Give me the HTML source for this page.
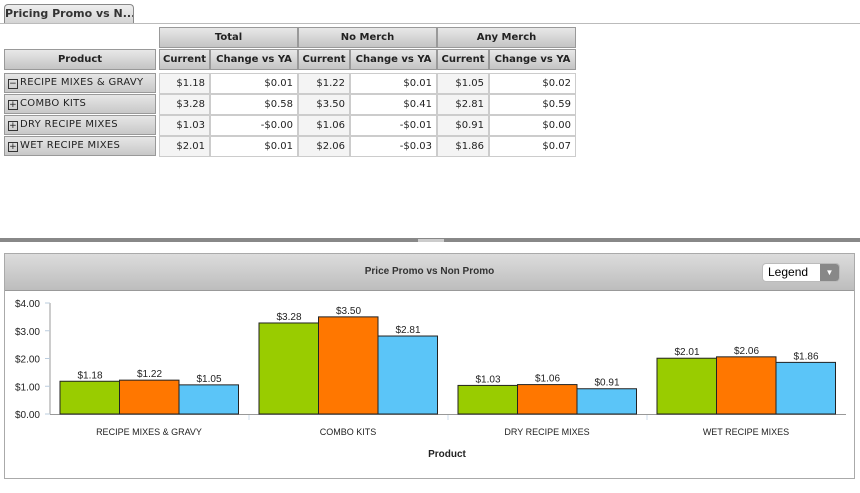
<!DOCTYPE html><html><head><style>
body{margin:0;width:860px;height:493px;background:#fff;position:relative;font-family:"Liberation Sans",sans-serif;overflow:hidden}
.tab{position:absolute;left:4px;top:4px;width:128px;height:18px;border:1px solid #888;border-bottom:none;border-radius:4px 4px 0 0;background:linear-gradient(#eee,#d4d4d4);font:bold 11px "DejaVu Sans",sans-serif;color:#333;line-height:18px;text-align:center;white-space:nowrap;overflow:hidden}
.tl{position:absolute;left:0;top:23px;width:860px;height:1px;background:#bbb}
.c{position:absolute;box-sizing:border-box;font:10px "DejaVu Sans",sans-serif;color:#222;white-space:nowrap;overflow:hidden}
.h{background:linear-gradient(#e8e8e8,#c4c4c4);border:1px solid #999;font-weight:bold;text-align:center;line-height:19px}
.r{background:linear-gradient(#e6e6e6,#c8c8c8);border:1px solid #999;padding-left:3px;line-height:18px;letter-spacing:0.3px}
.d{border:1px solid #ccc;text-align:right;padding-right:4px;line-height:19px;background:#fff}
.d.a{background:#f4f4f4}
.bx{display:inline-block;width:8px;height:8px;border:1px solid #333;font-size:9px;line-height:8px;text-align:center;margin-right:2px;vertical-align:-1px}
</style></head><body>
<div class="tab">Pricing Promo vs N...</div><div class="tl"></div>
<div class="c h" style="left:159px;top:27px;width:139px;height:21px">Total</div>
<div class="c h" style="left:298px;top:27px;width:139px;height:21px">No Merch</div>
<div class="c h" style="left:437px;top:27px;width:139px;height:21px">Any Merch</div>
<div class="c h" style="left:4px;top:49px;width:152px;height:21px">Product</div>
<div class="c h" style="left:159px;top:49px;width:51px;height:21px">Current</div>
<div class="c h" style="left:210px;top:49px;width:88px;height:21px">Change vs YA</div>
<div class="c h" style="left:298px;top:49px;width:52px;height:21px">Current</div>
<div class="c h" style="left:350px;top:49px;width:87px;height:21px">Change vs YA</div>
<div class="c h" style="left:437px;top:49px;width:52px;height:21px">Current</div>
<div class="c h" style="left:489px;top:49px;width:87px;height:21px">Change vs YA</div>
<div id="rows"></div>
<div style="position:absolute;left:0;top:238px;width:860px;height:4px;background:#888"></div>
<div style="position:absolute;left:4px;top:253px;width:851px;height:226px;border:1px solid #aaa;box-sizing:border-box"></div>
<div style="position:absolute;left:5px;top:254px;width:849px;height:36px;background:linear-gradient(#dcdcdc,#bdbdbd);border-bottom:1px solid #999;font:bold 10px 'Liberation Sans',sans-serif;color:#333;text-align:center;line-height:36px">Price Promo vs Non Promo</div>
<div style="position:absolute;left:762px;top:263px;width:78px;height:19px;border-radius:4px;background:#fff;border:1px solid #bbb;box-sizing:border-box;font:12px 'Liberation Sans',sans-serif;line-height:17px;padding-left:5px">Legend<div style="position:absolute;right:0;top:0;width:19px;height:17px;background:#888;border-radius:0 3px 3px 0;color:#fff;font-size:8px;text-align:center;line-height:17px">▼</div></div>
<svg style="position:absolute;left:0;top:0" width="860" height="493" id="s"></svg>
<script>
var rows=[["RECIPE MIXES & GRAVY","−","$1.18","$0.01","$1.22","$0.01","$1.05","$0.02"],["COMBO KITS","+","$3.28","$0.58","$3.50","$0.41","$2.81","$0.59"],["DRY RECIPE MIXES","+","$1.03","-$0.00","$1.06","-$0.01","$0.91","$0.00"],["WET RECIPE MIXES","+","$2.01","$0.01","$2.06","-$0.03","$1.86","$0.07"]];
var xs=[159,210,298,350,437,489,576],h="";
rows.forEach(function(r,i){var y=73+i*21;
h+='<div class="c r" style="left:4px;top:'+y+'px;width:152px;height:20px"><span class="bx">'+r[1]+'</span>'+r[0].replace("&","&amp;")+'</div>';
for(var j=0;j<6;j++)h+='<div class="c d'+(j%2==0?' a':'')+'" style="left:'+xs[j]+'px;top:'+y+'px;width:'+(xs[j+1]-xs[j])+'px;height:21px">'+r[j+2]+'</div>';});
document.getElementById("rows").innerHTML=h;
var s="",base=414,k=27.75,col=["#99cc00","#ff7700","#5bc5f8"];
s+='<line x1="50" y1="303" x2="50" y2="414" stroke="#999"/><line x1="50" y1="414.5" x2="846" y2="414.5" stroke="#999"/>';
for(var t=0;t<=4;t++){var y=base-t*k;s+='<line x1="45" y1="'+y+'" x2="50" y2="'+y+'" stroke="#bcd"/><text x="40" y="'+(y+4)+'" font-size="10" text-anchor="end" fill="#222" font-family="Liberation Sans">$'+t+'.00</text>';}
var v=[[1.18,1.22,1.05],[3.28,3.50,2.81],[1.03,1.06,0.91],[2.01,2.06,1.86]],names=["RECIPE MIXES & GRAVY","COMBO KITS","DRY RECIPE MIXES","WET RECIPE MIXES"];
v.forEach(function(g,i){var gx=60+i*199;
g.forEach(function(val,j){var x=gx+j*59.5,hh=val*k;s+='<rect x="'+x+'" y="'+(base-hh)+'" width="59.5" height="'+hh+'" fill="'+col[j]+'" stroke="#222" stroke-width="1"/><text x="'+(x+30)+'" y="'+(base-hh-3)+'" font-size="10" text-anchor="middle" fill="#222" font-family="Liberation Sans">$'+val.toFixed(2)+'</text>';});
s+='<text x="'+(gx+89)+'" y="435" font-size="9" text-anchor="middle" fill="#222" font-family="Liberation Sans">'+names[i].replace("&","&amp;")+'</text>';
if(i>0)s+='<line x1="'+(gx-10)+'" y1="415" x2="'+(gx-10)+'" y2="420" stroke="#cde"/>';});
s+='<text x="447" y="457" font-size="10" font-weight="bold" text-anchor="middle" fill="#222" font-family="Liberation Sans">Product</text>';
s+='<rect x="418" y="239" width="26" height="3" fill="#ccc"/>';
document.getElementById("s").innerHTML=s;
</script></body></html>
